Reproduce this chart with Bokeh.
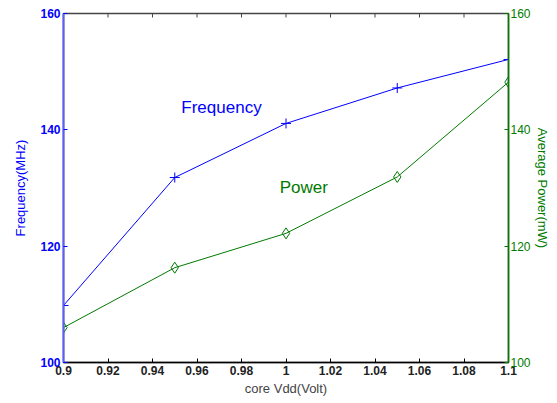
from bokeh.plotting import figure
from bokeh.models import LinearAxis, Range1d, FixedTicker, Label
from bokeh.embed import file_html
from bokeh.resources import INLINE

vdd = [0.9, 0.95, 1.0, 1.05, 1.1]
frequency = [109.8, 131.8, 141.1, 147.2, 152.1]
power = [106.0, 116.3, 122.2, 131.9, 148.2]
x_ticks = [0.9, 0.92, 0.94, 0.96, 0.98, 1.0, 1.02, 1.04, 1.06, 1.08, 1.1]
x_tick_labels = ["0.9", "0.92", "0.94", "0.96", "0.98", "1", "1.02", "1.04", "1.06", "1.08", "1.1"]
y_ticks = [100, 120, 140, 160]

BLUE = "#0000ff"
AXBLUE = "#5c5cff"
GREEN = "#007a00"
FONT = "Liberation Sans"

Y_MIN, Y_MAX = 100, 160

p = figure(width=557, height=403, output_backend="svg", toolbar_location=None,
           x_range=Range1d(0.9, 1.1), y_range=Range1d(Y_MIN, Y_MAX),
           min_border_left=63, min_border_right=49, min_border_top=13, min_border_bottom=41)
p.extra_y_ranges = {"pow": Range1d(Y_MIN, Y_MAX)}
p.outline_line_color = "#444444"
p.outline_line_width = 1.5
p.grid.visible = False
p.background_fill_color = "white"

# bottom axis
xa = p.xaxis[0]
xa.ticker = FixedTicker(ticks=x_ticks)
xa.major_label_overrides = {t: l for t, l in zip(x_ticks, x_tick_labels)}
xa.major_tick_in = 4
xa.major_tick_out = 0
xa.minor_tick_line_color = None
xa.axis_line_color = "black"
xa.axis_line_width = 1.5
xa.major_label_text_font = FONT
xa.major_label_text_font_style = "bold"
xa.major_label_text_font_size = "12px"
xa.major_label_text_color = "#222222"
xa.major_label_standoff = 3
xa.axis_label = "core Vdd(Volt)"
xa.axis_label_text_font = FONT
xa.axis_label_text_font_style = "normal"
xa.axis_label_text_font_size = "13px"
xa.axis_label_standoff = 3

# left axis
ya = p.yaxis[0]
ya.ticker = FixedTicker(ticks=y_ticks)
ya.major_tick_in = 4
ya.major_tick_out = 0
ya.minor_tick_line_color = None
ya.axis_line_color = AXBLUE
ya.axis_line_width = 2
ya.major_tick_line_color = BLUE
ya.major_label_text_color = BLUE
ya.major_label_text_font = FONT
ya.major_label_text_font_style = "bold"
ya.major_label_text_font_size = "12px"
ya.major_label_standoff = 3
ya.axis_label = "Frequency(MHz)"
ya.axis_label_text_color = BLUE
ya.axis_label_text_font = FONT
ya.axis_label_text_font_style = "normal"
ya.axis_label_text_font_size = "13px"
ya.axis_label_standoff = 9

# right axis
ra = LinearAxis(y_range_name="pow", ticker=FixedTicker(ticks=y_ticks))
ra.major_tick_in = 4
ra.major_tick_out = 0
ra.minor_tick_line_color = None
ra.axis_line_color = GREEN
ra.axis_line_width = 1.5
ra.major_tick_line_color = GREEN
ra.major_label_text_color = GREEN
ra.major_label_text_font = FONT
ra.major_label_text_font_size = "12px"
ra.major_label_standoff = 2
ra.axis_label = "Average Power(mW)"
ra.axis_label_text_color = GREEN
ra.axis_label_text_font = FONT
ra.axis_label_text_font_style = "normal"
ra.axis_label_text_font_size = "13px"
ra.axis_label_standoff = 1
p.add_layout(ra, "right")

# top ticks (inward), drawn at the x tick positions
tick_len = (Y_MAX - Y_MIN) * 4 / 349
p.segment(x0=x_ticks, y0=[Y_MAX] * len(x_ticks), x1=x_ticks,
          y1=[Y_MAX - tick_len] * len(x_ticks), line_color="#444444", line_width=1)

# series
p.line(vdd, frequency, line_color=BLUE, line_width=1)
p.scatter(vdd, frequency, marker="cross", size=10, line_color=BLUE, line_width=1)
p.line(vdd, power, line_color=GREEN, line_width=1, y_range_name="pow")
p.scatter(vdd, power, marker="diamond", size=11, line_color=GREEN, fill_color=None,
          line_width=1, y_range_name="pow")

p.add_layout(Label(x=0.971, y=143.8, text="Frequency", text_color=BLUE, text_font=FONT,
                   text_font_size="17px", text_align="center", text_baseline="middle"))
p.add_layout(Label(x=1.008, y=130.1, text="Power", text_color=GREEN, text_font=FONT,
                   text_font_size="17px", text_align="center", text_baseline="middle",
                   y_range_name="pow"))

open("out.html", "w").write(file_html(p, INLINE))
